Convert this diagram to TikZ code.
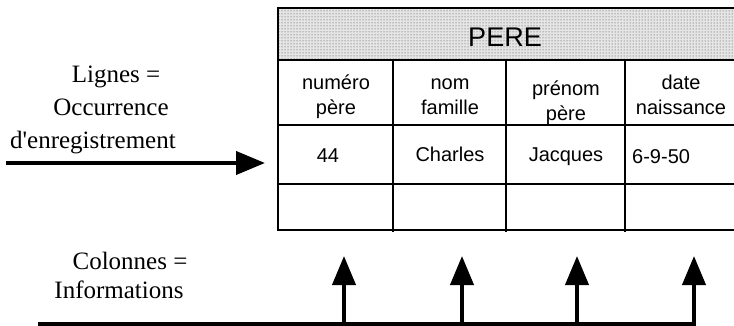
\documentclass[tikz,border=0pt]{standalone}
\usepackage{fontspec}
\setmainfont{Liberation Serif}
\setsansfont{Liberation Sans}
\usetikzlibrary{arrows.meta,patterns}

\begin{document}
\begin{tikzpicture}[x=1pt, y=-1pt,
        every node/.style={inner sep=0pt},
        cell/.style={font=\sffamily\fontsize{20}{25}\selectfont, align=center, anchor=base},
        side/.style={font=\fontsize{25}{30}\selectfont, anchor=base},
        grid/.style={line width=2pt},
        bigarrow/.style={line width=4pt, -{Triangle[length=29pt,width=23pt]}}]
      \useasboundingbox (0,0) rectangle (734,326);
      % title row of the table
      \fill[black!10] (278,8) rectangle (734,60);
      \fill[pattern=dots, pattern color=black!75] (278,8) rectangle (734,60);
      \node[font=\sffamily\fontsize{27}{30}\selectfont, anchor=base] (title) at (505,47) {PERE};
      % table frame and rows
      \draw[grid] (734,8) -- (278,8) -- (278,230) -- (734,230);
      \draw[grid] (278,60) -- (734,60);
      \draw[grid] (278,125) -- (734,125);
      \draw[grid] (278,184) -- (734,184);
      \draw[grid] (393,60) -- (393,232);
      \draw[grid] (506,60) -- (506,232);
      \draw[grid] (625,60) -- (625,232);
      % header row
      \node[cell] (numero) at (336,115) {numéro\\père};
      \node[cell] (nom) at (450,115) {nom\\famille};
      \node[cell] (prenom) at (566,121) {prénom\\père};
      \node[cell] (date) at (681,115) {date\\naissance};
      % data row
      \node[cell] (v44) at (328,163) {44};
      \node[cell] (charles) at (450,162) {Charles};
      \node[cell] (jacques) at (566,162) {Jacques};
      \node[cell, anchor=base west] (ddn) at (632,164) {6-9-50};
      % lines
      \node[side] (lignes) at (116,83) {Lignes =};
      \node[side] (occ) at (111,116) {Occurrence};
      \node[side] (enreg) at (93,149) {d\textquotesingle enregistrement};
      \coordinate (rowstart) at (6,163);
      \coordinate (rowend) at (265,163);
      \draw[bigarrow] (rowstart) -- (rowend);
      % columns
      \node[side] (colonnes) at (130,269) {Colonnes =};
      \node[side] (infos) at (119,298) {Informations};
      \coordinate (basestart) at (38,324);
      \coordinate (baseend) at (696,324);
      \draw[line width=4pt] (basestart) -- (baseend);
      \foreach \x/\name in {344/c1, 462/c2, 577/c3, 694/c4} {
        \coordinate (\name foot) at (\x,324);
        \coordinate (\name tip) at (\x,256);
        \draw[bigarrow] (\name foot) -- (\name tip);
      }
    \end{tikzpicture}
\end{document}
